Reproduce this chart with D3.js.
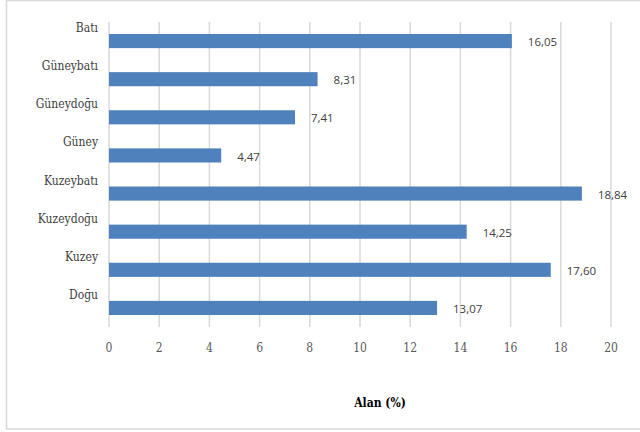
<!DOCTYPE html>
<html>
<head>
<meta charset="utf-8">
<script src="https://cdn.jsdelivr.net/npm/d3@7"></script>
<style>
  body { margin: 0; background: #fff; }
  .serif { font-family: "DejaVu Serif Condensed", "DejaVu Serif", serif; font-stretch: condensed; }
  .sans { font-family: "Open Sans", "Liberation Sans", sans-serif; }
</style>
</head>
<body>
<svg></svg>
<script>
var categories = ["Batı", "Güneybatı", "Güneydoğu", "Güney", "Kuzeybatı", "Kuzeydoğu", "Kuzey", "Doğu"]
var values = [16.05, 8.31, 7.41, 4.47, 18.84, 14.25, 17.60, 13.07]
var xTicks = [0, 2, 4, 6, 8, 10, 12, 14, 16, 18, 20]
var axisTitle = "Alan (%)"

var width = 640
var height = 432
var svg = d3.select('svg').attr('width', width).attr('height', height)

// outer chart border
svg.append('rect')
  .attr('x', 6.5).attr('y', 0.5)
  .attr('width', 640).attr('height', 428.5)
  .attr('fill', '#fff')
  .attr('stroke', '#d9d9d9')
  .attr('stroke-width', 1.5)

var x = d3.scaleLinear().domain([0, 20]).range([109, 611])
var y = d3.scaleBand().domain(categories).range([22, 327]).paddingInner(0.63).paddingOuter(0.315)

// gridlines
svg.append('g')
  .selectAll('line')
  .data(xTicks)
  .enter().append('line')
  .attr('x1', function(d) { return x(d) })
  .attr('x2', function(d) { return x(d) })
  .attr('y1', 22)
  .attr('y2', 327)
  .attr('stroke', '#d9d9d9')
  .attr('stroke-width', 1.5)

// bars
svg.append('g')
  .selectAll('rect')
  .data(values)
  .enter().append('rect')
  .attr('x', x(0))
  .attr('y', function(d, i) { return y(categories[i]) })
  .attr('width', function(d) { return x(d) - x(0) })
  .attr('height', y.bandwidth())
  .attr('fill', '#4f81bd')

// value labels
svg.append('g')
  .selectAll('text')
  .data(values)
  .enter().append('text')
  .attr('class', 'sans')
  .attr('x', function(d) { return x(d) + 16 })
  .attr('y', function(d, i) { return y(categories[i]) + y.bandwidth() / 2 + 1 })
  .attr('dy', '0.36em')
  .attr('font-size', 11.5)
  .attr('fill', '#404040')
  .text(function(d) { return d.toFixed(2).replace('.', ',') })

// category labels (sit above each bar)
svg.append('g')
  .selectAll('text')
  .data(categories)
  .enter().append('text')
  .attr('class', 'serif')
  .attr('x', 98)
  .attr('y', function(d) { return y(d) - 2 })
  .attr('text-anchor', 'end')
  .attr('font-size', 12)
  .attr('fill', '#404040')
  .text(function(d) { return d })

// x tick labels
svg.append('g')
  .selectAll('text')
  .data(xTicks)
  .enter().append('text')
  .attr('class', 'serif')
  .attr('x', function(d) { return x(d) })
  .attr('y', 352)
  .attr('text-anchor', 'middle')
  .attr('font-size', 12)
  .attr('fill', '#595959')
  .text(function(d) { return d })

svg.append('text')
  .attr('class', 'serif')
  .attr('x', 380)
  .attr('y', 407)
  .attr('text-anchor', 'middle')
  .attr('font-weight', 'bold')
  .attr('font-size', 12)
  .attr('fill', '#000')
  .text(axisTitle)
</script>
</body>
</html>
